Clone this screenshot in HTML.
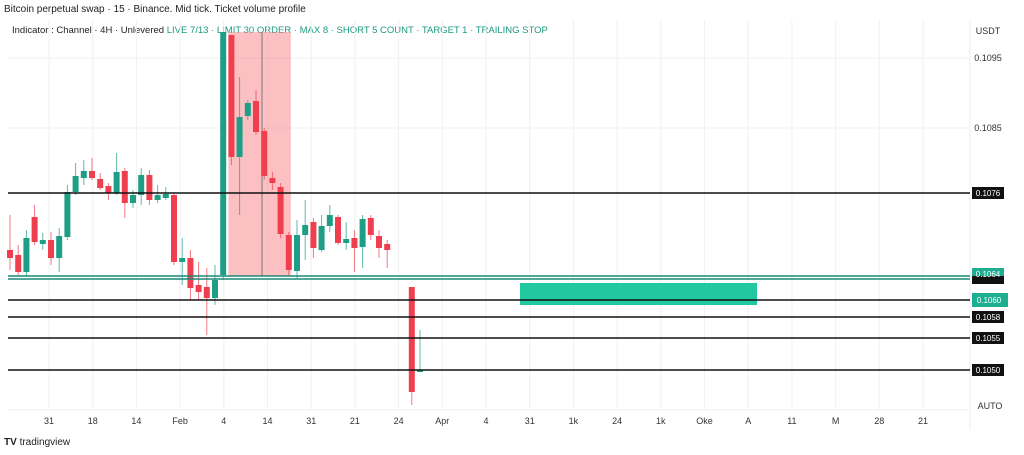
<!DOCTYPE html>
<html><head><meta charset="utf-8"><style>
body{margin:0;background:#fff;font-family:"Liberation Sans",sans-serif;}
#wrap{position:relative;width:1024px;height:455px;overflow:hidden;}
.t{position:absolute;font-size:10px;color:#222;white-space:nowrap;}
</style></head><body>
<div id="wrap">
<div class="t" style="left:4px;top:4px;font-size:10px">Bitcoin perpetual swap · 15 · Binance. Mid tick. Ticket volume profile</div>
<div class="t" style="left:12px;top:25px;font-size:9.5px">Indicator : Channel · 4H · Unlevered <span style="color:#1a9a80">LIVE 7/13 · LIMIT 30 ORDER · MAX 8 · SHORT 5 COUNT · TARGET 1 · TRAILING STOP</span></div>
<svg id="chart" width="1024" height="455" style="position:absolute;left:0;top:0"></svg>
<div class="t" style="left:4px;top:437px;font-size:10px;font-weight:bold">TV <span style="font-weight:normal">tradingview</span></div>
</div>
<script>
// data: [index, open, high, low, close] in price points (y = 420 - v)
const candleIdx=[0,1,2,3,4,5,6,7,8,9,10,11,12,13,14,15,16,17,18,19,20,21,22,23,24,25,26,27,28,29,30,31,32,33,34,35,36,37,38,39,40,41,42,43,44,45,46,49,50];
const opens =[170,165,148,203,176,180,162,183,228,242,249,241,234,227,249,217,225,245,220,222,225,158,162,135,133,122,145,385,263,304,319,289,242,233,185,149,185,198,170,194,203,177,182,173,202,184,176,133,50];
const highs =[205,175,190,215,187,188,192,235,257,260,262,247,237,267,252,230,252,250,235,233,227,182,170,158,152,155,388,385,343,320,330,292,248,237,188,200,220,202,205,215,205,198,190,205,205,190,180,133,90];
const lows  =[150,145,144,175,170,155,148,180,225,235,240,230,220,225,202,212,215,215,217,220,155,135,120,120,85,115,140,255,205,300,285,240,230,182,145,142,160,162,168,188,175,170,148,152,180,162,152,15,48];
const closes=[162,148,182,178,180,162,184,228,244,249,242,232,227,248,217,225,245,220,225,226,158,162,132,128,122,140,388,263,303,317,288,244,237,186,150,185,195,172,194,205,177,181,172,201,185,172,170,28,50];
const levelValues=[227,103,82,50,120];
const tealLevels=[144,141];
const priceTicks=[362,292];
const xTickLabels=["31","18","14","Feb","4","14","31","21","24","Apr","4","31","1k","24","1k","Oke","A","11","M","28","21"];
const svg=document.getElementById('chart');
const NS='http://www.w3.org/2000/svg';
const plotR=970;
function xScale(i){return 10+8.2*i;}
function yScale(v){return 420-v;}
function fmt(v){return (0.1095+(v-362)/70000).toFixed(4);}
function mk(tag,attrs){const e=document.createElementNS(NS,tag);for(const k in attrs)e.setAttribute(k,attrs[k]);svg.appendChild(e);return e;}
// grid
for(let k=0;k<xTickLabels.length;k++){
  const gx=49+43.7*k;
  const g=mk('line',{x1:gx,x2:gx,y1:20,y2:410,stroke:'#f0f0f0','stroke-width':1});
  
  
  const t=mk('text',{x:gx,y:424,'font-size':9,'text-anchor':'middle',fill:'#333','font-family':'Liberation Sans'});
  t.textContent=xTickLabels[k];
  
  
}
priceTicks.forEach(v=>{
  const g=mk('line',{x1:8,x2:plotR,y1:yScale(v),y2:yScale(v),stroke:'#f0f0f0'});
  
  
  const t=mk('text',{x:988,y:yScale(v)+3,'font-size':9,'text-anchor':'middle',fill:'#333','font-family':'Liberation Sans'});
  t.textContent=fmt(v);
  
  
});
mk('line',{x1:plotR,x2:plotR,y1:20,y2:430,stroke:'#eee'});
mk('line',{x1:8,x2:plotR,y1:410,y2:410,stroke:'#eee'});
let tt=mk('text',{x:988,y:34,'font-size':9,'text-anchor':'middle',fill:'#333','font-family':'Liberation Sans'});tt.textContent='USDT';


tt=mk('text',{x:990,y:409,'font-size':9,'text-anchor':'middle',fill:'#333','font-family':'Liberation Sans'});tt.textContent='AUTO';


// pink zone
const zone=mk('rect',{x:xScale(27)-3,y:yScale(388),width:xScale(34)-xScale(27)+5,height:yScale(144)-yScale(388),fill:'rgba(250,130,135,0.5)'});


const vl=mk('line',{x1:262,x2:262,y1:yScale(388),y2:yScale(144),stroke:'#777','stroke-width':1});


// teal target box
const tb=mk('rect',{x:520,y:yScale(137),width:237,height:22,fill:'#22c9a0'});


// candles
for(let k=0;k<candleIdx.length;k++){
  const x=xScale(candleIdx[k]);const up=closes[k]>=opens[k];const c=up?'#1f9e86':'#ef3f4f';
  const g=document.createElementNS(NS,'g');svg.appendChild(g);
  
  
  const w=document.createElementNS(NS,'line');
  w.setAttribute('x1',x);w.setAttribute('x2',x);w.setAttribute('y1',yScale(highs[k]));w.setAttribute('y2',yScale(lows[k]));w.setAttribute('stroke',c);w.setAttribute('opacity','0.7');g.appendChild(w);
  const b=document.createElementNS(NS,'rect');
  const top=yScale(Math.max(opens[k],closes[k]));const h=Math.max(2,Math.abs(opens[k]-closes[k]));
  b.setAttribute('x',x-3);b.setAttribute('y',top);b.setAttribute('width',6);b.setAttribute('height',h);b.setAttribute('fill',c);g.appendChild(b);
}
// level lines
levelValues.forEach(v=>{
  const l=mk('line',{x1:8,x2:plotR,y1:yScale(v),y2:yScale(v),stroke:'#111','stroke-width':1.5});
  
  
  const r=mk('rect',{x:972,y:yScale(v)-6,width:32,height:12,fill:'#111'});
  
  
  const t=mk('text',{x:988,y:yScale(v)+3,'font-size':8,'text-anchor':'middle',fill:'#fff','font-family':'Liberation Sans'});
  t.textContent=fmt(v);
  
  
});
tealLevels.forEach(v=>{
  const l=mk('line',{x1:8,x2:plotR,y1:yScale(v),y2:yScale(v),stroke:'#1a8a78','stroke-width':1.5});
  
  
});
let r=mk('rect',{x:972,y:yScale(146)-6,width:32,height:12,fill:'#1fae92'});


r=mk('rect',{x:972,y:yScale(141)-3,width:32,height:8,fill:'#111'});
r=mk('rect',{x:972,y:yScale(120)-7,width:36,height:14,fill:'#1fae92'});


let t=mk('text',{x:989,y:yScale(120)+3,'font-size':8,'text-anchor':'middle',fill:'#fff','font-family':'Liberation Sans'});t.textContent=fmt(120);


t=mk('text',{x:988,y:yScale(146)+3,'font-size':8,'text-anchor':'middle',fill:'#fff','font-family':'Liberation Sans'});t.textContent=fmt(146);


</script>
</body></html>
